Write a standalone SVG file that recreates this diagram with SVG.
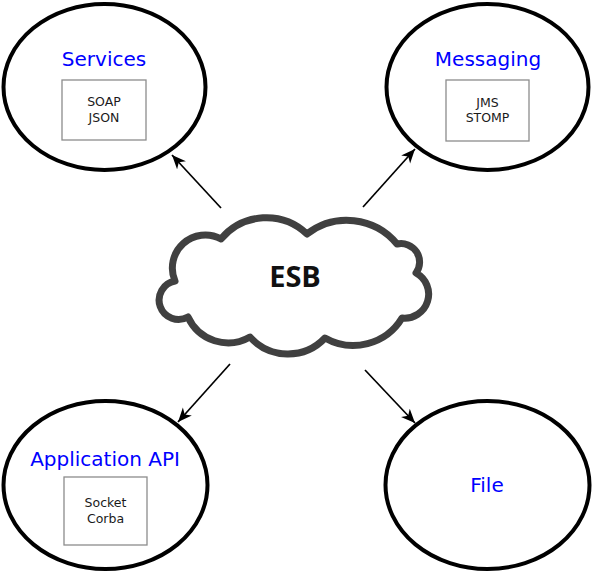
<svg xmlns="http://www.w3.org/2000/svg" width="592" height="572" viewBox="0 0 592 572">
<style>
.node{fill:#fff;stroke:#000;stroke-width:4}
.box{fill:#fff;stroke:#8c8c8c;stroke-width:1.3}
.title{font-family:"DejaVu Sans",sans-serif;font-size:20px;fill:#0000ff;text-anchor:middle}
.item{font-family:"DejaVu Sans",sans-serif;font-size:12.5px;fill:#1a1a1a;text-anchor:middle}
.conn{stroke:#000;stroke-width:1.7;fill:none;marker-end:url(#arr)}
.cloud{fill:#fff;stroke:#404040;stroke-width:7;stroke-linejoin:round}
.esb{font-family:"Open Sans","DejaVu Sans",sans-serif;font-weight:700;font-size:29px;fill:#111;text-anchor:middle}
</style>
<defs>
<marker id="arr" markerUnits="userSpaceOnUse" markerWidth="18" markerHeight="14" refX="14" refY="6" orient="auto">
<path d="M0,0 L14,6 L0,12 L4,6 Z" fill="#000"/>
</marker>
</defs>
<rect width="592" height="572" fill="#fff"/>
<g id="connectors">
<line class="conn" x1="221" y1="208" x2="172" y2="155"/>
<line class="conn" x1="363" y1="207" x2="415" y2="149"/>
<line class="conn" x1="230" y1="364" x2="178" y2="422"/>
<line class="conn" x1="365" y1="370" x2="415" y2="423"/>
</g>
<g id="esb">
<path class="cloud" d="M307,234 A59,59 0 0 0 221,239 A33,33 0 0 0 175,281 A19.4,19.4 0 1 0 188,317 A44,44 0 0 0 250,337 A51,51 0 0 0 325,338 A57,57 0 0 0 402,318 A24,24 0 0 0 416,273 A18.5,18.5 0 0 0 397,244 A65,65 0 0 0 307,234 Z"/>
<text class="esb" x="295" y="287">ESB</text>
</g>
<g id="services">
<ellipse class="node" cx="104.5" cy="87" rx="101" ry="83"/>
<text class="title" x="104" y="66">Services</text>
<rect class="box" x="62" y="80" width="84" height="60"/>
<text class="item" x="104" y="106">SOAP</text>
<text class="item" x="104" y="122">JSON</text>
</g>
<g id="messaging">
<ellipse class="node" cx="487.5" cy="87" rx="101" ry="83"/>
<text class="title" x="488" y="66">Messaging</text>
<rect class="box" x="446" y="80" width="83" height="61"/>
<text class="item" x="487.5" y="107">JMS</text>
<text class="item" x="487.5" y="122">STOMP</text>
</g>
<g id="application-api">
<ellipse class="node" cx="105.5" cy="485" rx="102" ry="84"/>
<text class="title" x="105" y="466">Application API</text>
<rect class="box" x="64" y="477" width="83" height="68"/>
<text class="item" x="105.5" y="507">Socket</text>
<text class="item" x="105.5" y="523">Corba</text>
</g>
<g id="file">
<ellipse class="node" cx="487.5" cy="485" rx="102" ry="84"/>
<text class="title" x="487" y="492">File</text>
</g>
</svg>
